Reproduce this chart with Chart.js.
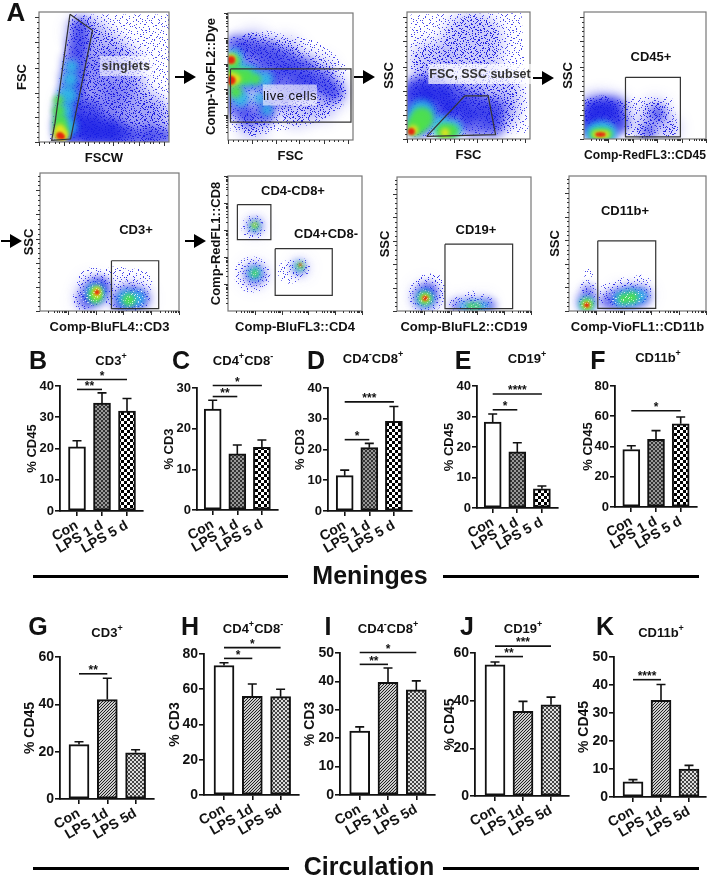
<!DOCTYPE html>
<html lang="en">
<head>
<meta charset="UTF-8">
<title>Flow cytometry gating and immune cell percentages</title>
<script src="https://cdn.jsdelivr.net/npm/chart.js"></script>
<style>
    html, body { margin: 0; padding: 0; background: #fff; }
    #page { position: relative; width: 709px; height: 877px; overflow: hidden;
            font-family: "Liberation Sans", Arial, sans-serif; font-weight: bold; color: #111; }
    canvas { position: absolute; }
    .txt { position: absolute; transform: translate(-50%, -50%); white-space: nowrap; z-index: 5; }
    .rule { position: absolute; background: #000; height: 3px; z-index: 5; }
    sup { font-size: 9px; line-height: 0; }
</style>
</head>
<body>
<div id="page"></div>
<script>
// ---- bar data: means and top of the error bar ----
const meningesCategories = ['Con', 'LPS 1 d', 'LPS 5 d'];
const circulationCategories = ['Con', 'LPS 1d', 'LPS 5d'];

const cd3MenMeans = [20.5, 34.5, 32];       const cd3MenTops = [22.5, 37.8, 36];
const cd4MenMeans = [24.8, 13.8, 15.4];     const cd4MenTops = [27, 16, 17.2];
const cd8MenMeans = [11.5, 20.6, 29.2];     const cd8MenTops = [13.3, 22, 34];
const cd19MenMeans = [28.2, 18.4, 6.3];     const cd19MenTops = [30.8, 21.4, 7.2];
const cd11MenMeans = [38, 44.8, 55];        const cd11MenTops = [40.5, 50.5, 59.5];

const cd3CirMeans = [23, 42, 19.5];         const cd3CirTops = [24.2, 51, 20.8];
const cd4CirMeans = [73.5, 56, 55.8];       const cd4CirTops = [75, 63, 60];
const cd8CirMeans = [22.5, 39.7, 37];       const cd8CirTops = [24, 44.7, 40.2];
const cd19CirMeans = [55, 35.5, 38.3];      const cd19CirTops = [56.2, 39.7, 41.5];
const cd11CirMeans = [5.4, 34.5, 10];       const cd11CirTops = [6.2, 40.2, 11.3];

// significance: [from category, to category, level in axis units, stars]
const cd3MenSig = [[0, 1, 38.9, '**'], [0, 2, 42.1, '*']];
const cd4MenSig = [[0, 1, 27.9, '**'], [0, 2, 30.6, '*']];
const cd8MenSig = [[0, 1, 23.2, '*'], [0, 2, 35.5, '***']];
const cd19MenSig = [[0, 1, 32.2, '*'], [0, 2, 37.4, '****']];
const cd11MenSig = [[0, 2, 63.6, '*']];
const cd3CirSig = [[0, 1, 52.9, '**']];
const cd4CirSig = [[0, 1, 77.5, '*'], [0, 2, 83.6, '*']];
const cd8CirSig = [[0, 1, 46, '**'], [0, 2, 50.2, '*']];
const cd19CirSig = [[0, 1, 58.5, '**'], [0, 2, 62.9, '***']];
const cd11CirSig = [[0, 1, 41.9, '****']];

// ---- flow plots: everything in percent of the plot, blobs are [x, y, radius] ----
const linearMajor = [0, 19, 38, 57, 77, 96];
const linearMinor = [4, 8, 12, 15, 23, 27, 31, 35, 42, 46, 50, 54, 61, 65, 69, 73, 81, 85, 88, 92];
const sideMajor = [0, 17.5, 35, 52.5, 70, 87.5];
const sideMinor = [3.5, 7, 10.5, 14, 21, 24.5, 28, 31.5, 38.5, 42, 45.5, 49, 56, 59.5, 63, 66.5, 73.5, 77, 80.5, 84, 91, 94.5, 98];
const logMajor = [20, 40, 60, 80, 100];
const logMinor = [6, 10, 12, 14, 16, 17, 18, 19, 26, 30, 32, 34, 36, 37, 38, 39, 46, 50, 52, 54, 56, 57, 58, 59, 66, 70, 72, 74, 76, 77, 78, 79, 86, 90, 92, 94, 96, 97, 98, 99];

const singletsSparse = [[8, 2], [23.8, 98], [100, 98], [100, 2]];
const singletsDense = [[50, 40, 30], [40, 25, 30], [70, 20, 30], [60, 55, 25], [45, 70, 22], [35, 85, 15], [85, 15, 22]];
const singletsBlue = [[31, 88, 8], [30, 75, 10], [28, 62, 11], [26, 50, 11], [25, 38, 11], [23, 26, 12], [22, 14, 13], [21, 6, 11], [30, 10, 12], [40, 10, 12], [50, 9, 12], [60, 8, 10], [40, 5, 10], [55, 5, 10], [70, 4, 9], [85, 4, 9], [97, 4, 7], [38, 22, 12]];
const singletsCyan = [[25, 58, 5], [24, 48, 6], [22, 36, 8], [20, 24, 7], [21, 12, 9]];
const singletsGreen = [[15, 32, 4], [15, 24, 5], [16, 16, 6], [17, 9, 7]];
const singletsYellow = [[16, 10, 4], [16, 6, 5], [18, 5, 5]];
const singletsRed = [[16, 5, 3], [18, 4, 2]];
const singletsGate = [[23.8, 98.2], [41.2, 86], [24.3, 2.3], [9.7, 1.3], [12.3, 14.5], [23.8, 98.2]];

const liveSparse = [[2, 81], [31, 86], [71, 78], [95, 60], [92, 26], [71, 13], [31, 5], [2, 7]];
const liveDense = [[20, 72, 16], [45, 65, 18], [70, 50, 18], [85, 38, 12], [55, 25, 16], [20, 12, 12], [75, 25, 10]];
const liveBlue = [[6, 74, 9], [18, 72, 10], [32, 68, 11], [46, 62, 11], [60, 55, 11], [74, 46, 10], [84, 38, 8], [10, 50, 16], [28, 50, 14], [44, 48, 12], [60, 42, 11], [8, 28, 12], [16, 18, 8], [30, 20, 8], [30, 30, 10], [45, 33, 7]];
const liveCyan = [[5, 65, 7], [8, 52, 11], [18, 50, 9], [30, 48, 6], [10, 33, 7], [31, 24, 4], [25, 33, 4]];
const liveGreen = [[4, 62, 6], [5, 50, 9], [14, 50, 7], [22, 48, 4], [6, 38, 5]];
const liveYellow = [[2.5, 64, 4], [2.5, 48, 6], [7, 48, 3]];
const liveRed = [[2.5, 63, 3.5], [2.5, 47, 4]];
const liveGate = [[2, 56], [98.4, 56], [98.4, 14], [2, 14], [2, 56]];

const scatterSparse = [[3, 98], [93, 99], [99, 5], [3, 2]];
const scatterDense = [[53, 75, 28], [20, 60, 18], [70, 35, 24], [75, 20, 16], [20, 35, 20], [45, 30, 20]];
const scatterBlue = [[8, 38, 12], [22, 40, 12], [38, 32, 14], [55, 26, 12], [70, 22, 10], [8, 30, 16], [25, 28, 16], [40, 18, 14], [55, 12, 12], [70, 10, 9], [10, 15, 16]];
const scatterCyan = [[12, 20, 12], [8, 12, 9], [28, 10, 9], [38, 8, 7]];
const scatterGreen = [[12, 16, 10], [7, 10, 8], [30, 6, 7], [36, 6, 6]];
const scatterYellow = [[5, 7, 4], [31, 5, 3.5]];
const scatterRed = [[3.5, 6, 3]];
const scatterGate = [[16, 2], [47, 34], [66, 34], [72, 3.4], [16, 2]];

const cd45Sparse = [[33, 33], [72, 33], [78, 6], [33, 2]];
const cd45Dense = [[15, 20, 18], [6, 22, 13], [26, 22, 12], [58, 20, 12], [50, 7, 9], [70, 8, 8]];
const cd45Blue = [[15, 13, 18], [6, 22, 9], [15, 24, 10], [25, 24, 9], [6, 10, 9], [30, 12, 7], [60, 20, 6], [53, 6, 5]];
const cd45Cyan = [[8, 5, 7], [14, 6, 9], [20, 5, 7]];
const cd45Green = [[9, 4, 4], [14, 4, 5], [19, 4, 4]];
const cd45Yellow = [[10, 3.5, 2.5], [14, 3.5, 3], [18, 3.5, 2.5]];
const cd45Red = [[11, 3.5, 1.5], [13.5, 3.5, 2], [16, 3.5, 1.5]];
const cd45Gate = [[34, 48.6], [79, 48.6], [79, 1.6], [34, 1.6], [34, 48.6]];

const cd3Sparse = [[38, 20, 16], [55, 18, 20], [70, 20, 15], [30, 8, 10]];
const cd3Dense = [[38, 14, 14], [64, 10, 16], [72, 9, 10], [32, 8, 9]];
const cd3Blue = [[40, 14, 11], [44, 18, 7], [34, 8, 7], [64, 9, 11], [72, 9, 7], [58, 6, 6]];
const cd3Cyan = [[40, 13, 8], [62, 9, 7], [70, 9, 6]];
const cd3Green = [[40, 13, 5], [40, 10, 5], [64, 8, 5]];
const cd3Yellow = [[41, 15, 3], [41, 12, 3]];
const cd3Red = [[41, 13.5, 2]];
const cd3Gate = [[51.4, 36.4], [85.4, 36.4], [85.4, 1.7], [51.4, 1.7], [51.4, 36.4]];

const cd4Sparse = [[18, 27, 18], [46, 29, 12], [19, 62, 12], [54, 32, 10]];
const cd4Dense = [[20, 27, 12], [54, 32, 7], [20, 63, 8]];
const cd4Blue = [[20, 27, 8], [20, 63, 5], [53, 32, 4.5]];
const cd4Cyan = [[20, 28, 5], [20, 63, 3], [53, 33, 3]];
const cd4Green = [[20, 28, 2.5], [20, 63, 2], [54, 33, 1.8]];
const cd4Yellow = [[20, 64, 1.2], [54, 34, 1]];
const cd4Red = [[54, 34, 0.8]];
const cd8Gate = [[7, 78.8], [32, 78.8], [32, 52.8], [7, 52.8], [7, 78.8]];
const cd4Gate = [[35.2, 46.2], [77.8, 46.2], [77.8, 11.6], [35.2, 11.6], [35.2, 46.2]];

const cd19Sparse = [[24, 16, 16], [22, 12, 18], [28, 22, 8], [45, 5, 8], [55, 6, 10], [65, 6, 9], [55, 10, 7]];
const cd19Dense = [[21, 11, 13], [45, 4, 6], [55, 5, 7], [65, 5, 7]];
const cd19Blue = [[21, 10, 10], [24, 15, 6], [45, 4, 4], [55, 4, 5], [65, 4, 5], [70, 4, 3]];
const cd19Cyan = [[21, 9.5, 7], [50, 3.5, 3], [58, 3.5, 3.5], [65, 3.5, 3]];
const cd19Green = [[21, 9.5, 5], [55, 3.5, 2.5], [60, 3.5, 2]];
const cd19Yellow = [[21, 9.5, 3]];
const cd19Red = [[21, 9.5, 2]];
const cd19Gate = [[35.8, 49.9], [86.3, 49.9], [86.3, 1.7], [35.8, 1.7], [35.8, 49.9]];

const cd11Sparse = [[14, 18, 8], [14, 28, 5], [14, 10, 8], [30, 12, 12], [40, 16, 12], [52, 18, 12], [40, 12, 14]];
const cd11Dense = [[13, 7, 8], [30, 8, 7], [38, 10, 10], [46, 11, 10], [54, 12, 8]];
const cd11Blue = [[13, 7, 7], [14, 15, 4], [28, 7, 5], [36, 9, 8], [45, 10, 9], [53, 11, 7]];
const cd11Cyan = [[13, 5, 6], [38, 9, 6], [45, 10, 7], [52, 11, 5]];
const cd11Green = [[13, 5, 5], [40, 9, 4], [46, 10, 4.5]];
const cd11Yellow = [[13, 4.5, 3]];
const cd11Red = [[13, 4.5, 2]];
const cd11Gate = [[21, 52], [63.3, 52], [63.3, 2], [21, 2], [21, 52]];

// hand placed speckle tile for the thin parts of the clouds
const speckleDots = [[1,3],[7,1],[14,2],[22,0],[29,4],[4,8],[11,7],[18,6],[25,9],[31,11],[2,14],[9,13],[16,12],[23,15],[28,17],[6,19],[13,18],[20,21],[26,23],[0,22],[8,25],[15,24],[3,28],[11,30],[19,27],[24,29],[30,26],[17,31],
    [5,5],[12,4],[20,3],[27,6],[2,10],[8,10],[15,9],[22,11],[29,13],[5,16],[12,15],[19,16],[25,18],[31,20],[3,20],[10,21],[17,22],[23,24],[29,24],[6,27],[13,27],[21,30],[27,31],[1,30],[9,29],[16,28],[31,1],[18,14],[24,5],[10,1]];

// ---- helpers ----
const page = document.getElementById('page');

function text(html, x, y, size, extra) {
    const d = document.createElement('div');
    d.className = 'txt';
    d.innerHTML = html;
    d.style.left = x + 'px';
    d.style.top = y + 'px';
    d.style.fontSize = size + 'px';
    if (extra) Object.assign(d.style, extra);
    page.appendChild(d);
}

function rule(x1, x2, y) {
    const d = document.createElement('div');
    d.className = 'rule';
    d.style.left = x1 + 'px';
    d.style.width = (x2 - x1) + 'px';
    d.style.top = (y - 1.5) + 'px';
    page.appendChild(d);
}

function arrow(x, y) {
    const s = document.createElementNS('http://www.w3.org/2000/svg', 'svg');
    s.setAttribute('width', 21);
    s.setAttribute('height', 14);
    s.style.cssText = 'position:absolute;z-index:5;left:' + x + 'px;top:' + (y - 7) + 'px';
    s.innerHTML = '<path d="M0 6h9V0l12 7-12 7V8H0z" fill="#000"/>';
    page.appendChild(s);
}

function addCanvas(left, top, w, h) {
    const c = document.createElement('canvas');
    c.width = w;
    c.height = h;
    c.style.left = left + 'px';
    c.style.top = top + 'px';
    page.appendChild(c);
    return c.getContext('2d');
}

function tile(size, draw) {
    const c = document.createElement('canvas');
    c.width = size;
    c.height = size;
    const g = c.getContext('2d');
    draw(g);
    return g.createPattern(c, 'repeat');
}

function checker(cell, dark, light) {
    return tile(cell * 2, g => {
        g.fillStyle = light;
        g.fillRect(0, 0, cell * 2, cell * 2);
        g.fillStyle = dark;
        g.fillRect(0, 0, cell, cell);
        g.fillRect(cell, cell, cell, cell);
    });
}

const whiteFill = '#fff';
const menFine = checker(2, '#333', '#999');
const menCoarse = checker(3, '#000', '#fff');
const cirFine = tile(3, g => {
    g.fillStyle = '#ccc';
    g.fillRect(0, 0, 3, 3);
    g.strokeStyle = '#222';
    g.lineWidth = 1;
    g.beginPath();
    g.moveTo(-1, 4); g.lineTo(4, -1);
    g.moveTo(-1, 1); g.lineTo(1, -1);
    g.moveTo(2, 4); g.lineTo(4, 2);
    g.stroke();
});
const cirCoarse = checker(2, '#444', '#ddd');

// the dot list is reused mirrored and shifted so the tile gets dense enough
function dots(g, copies) {
    speckleDots.forEach(p => {
        g.fillRect(p[0], p[1], 1, 1);
        if (copies > 1) g.fillRect((p[1] + 5) % 32, (p[0] + 11) % 32, 1, 1);
        if (copies > 2) g.fillRect((31 - p[0]) % 32, (p[1] + 9) % 32, 1, 1);
        if (copies > 3) g.fillRect((p[1] + 19) % 32, (31 - p[0]) % 32, 1, 1);
    });
}
const speckleThin = tile(32, g => { g.fillStyle = 'rgba(42,42,230,0.85)'; dots(g, 2); });
const speckleThick = tile(32, g => { g.fillStyle = 'rgba(30,30,224,0.9)'; dots(g, 4); });
const grain = tile(32, g => { g.fillStyle = 'rgba(255,255,255,0.5)'; dots(g, 2); });

// error bars and significance lines, all through the chart's scales
const barMarks = {
    id: 'barMarks',
    afterDatasetsDraw(chart, args, opts) {
        const c = chart.ctx, sx = chart.scales.x, sy = chart.scales.y;
        c.save();
        c.strokeStyle = '#111';
        c.lineWidth = 1.6;
        opts.tops.forEach((top, i) => {
            const x = sx.getPixelForValue(i);
            c.beginPath();
            c.moveTo(x, sy.getPixelForValue(opts.means[i]));
            c.lineTo(x, sy.getPixelForValue(top));
            c.moveTo(x - 4.5, sy.getPixelForValue(top));
            c.lineTo(x + 4.5, sy.getPixelForValue(top));
            c.stroke();
        });
        c.fillStyle = '#111';
        c.font = 'bold 12px "Liberation Sans", Arial';
        c.textAlign = 'center';
        c.textBaseline = 'middle';
        opts.sig.forEach(s => {
            const a = sx.getPixelForValue(s[0]), b = sx.getPixelForValue(s[1]), y = sy.getPixelForValue(s[2]);
            c.beginPath();
            c.moveTo(a, y);
            c.lineTo(b, y);
            c.stroke();
            c.fillText(s[3], (a + b) / 2, y - 3);
        });
        c.restore();
    }
};

// frame and tick marks of a flow plot, and per layer blur
const flowMarks = {
    id: 'flowMarks',
    beforeDatasetDraw(chart, args) {
        const b = chart.data.datasets[args.index].blur;
        if (b) chart.ctx.filter = 'blur(' + b + 'px)';
    },
    afterDatasetDraw(chart) {
        chart.ctx.filter = 'none';
    },
    afterDraw(chart, args, opts) {
        const c = chart.ctx, a = chart.chartArea, sx = chart.scales.x, sy = chart.scales.y;
        c.save();
        c.strokeStyle = '#777';
        c.lineWidth = 1.2;
        c.strokeRect(a.left, a.top, a.right - a.left, a.bottom - a.top);
        c.strokeStyle = '#333';
        c.lineWidth = 1;
        const tx = (list, len) => list.forEach(v => {
            const x = Math.round(sx.getPixelForValue(v)) + 0.5;
            c.beginPath(); c.moveTo(x, a.bottom); c.lineTo(x, a.bottom + len); c.stroke();
        });
        const ty = (list, len) => list.forEach(v => {
            const y = Math.round(sy.getPixelForValue(v)) + 0.5;
            c.beginPath(); c.moveTo(a.left, y); c.lineTo(a.left - len, y); c.stroke();
        });
        tx(opts.xMajor, 4); tx(opts.xMinor, 2);
        ty(opts.yMajor, 4); ty(opts.yMinor, 2);
        c.restore();
    }
};

function barPanel(p) {
    const pad = 34, below = 62, yWidth = p.off + 6;
    const left = p.axis - yWidth, top = p.top - pad;
    const w = p.end - left + 2, h = p.zero - p.top + pad + below;
    const ctx = addCanvas(left, top, w, h);
    const spacing = p.ticks[1] - p.ticks[0];
    new Chart(ctx, {
        type: 'bar',
        data: {
            datasets: [{
                data: p.means.map((v, i) => ({ x: i, y: v })),
                backgroundColor: p.fills,
                borderColor: '#111',
                borderWidth: 2,
                borderSkipped: false,
                barThickness: p.barW
            }]
        },
        options: {
            responsive: false,
            animation: false,
            layout: { autoPadding: false, padding: { top: pad, right: 2, left: 0, bottom: 0 } },
            plugins: {
                legend: { display: false },
                tooltip: { enabled: false },
                barMarks: { means: p.means, tops: p.tops, sig: p.sig }
            },
            scales: {
                x: {
                    type: 'linear',
                    offset: false,
                    min: (p.axis - p.ticks[0]) / spacing,
                    max: (p.end - p.ticks[0]) / spacing,
                    afterBuildTicks: s => { s.ticks = p.cats.map((c, i) => ({ value: i })); },
                    afterFit: s => { s.height = below; s.paddingLeft = 0; s.paddingRight = 0; },
                    grid: { offset: false, drawOnChartArea: false, color: '#111', lineWidth: 1.6, tickLength: 5 },
                    border: { color: '#111', width: 1.8 },
                    ticks: {
                        autoSkip: false, minRotation: 30, maxRotation: 30, padding: 1,
                        color: '#111', font: { family: '"Liberation Sans", Arial', weight: 'bold', size: p.xFont },
                        callback: v => p.cats[v]
                    }
                },
                y: {
                    min: 0,
                    max: p.max,
                    afterFit: s => { s.width = yWidth; s.paddingTop = 0; s.paddingBottom = 0; },
                    grid: { drawOnChartArea: false, color: '#111', lineWidth: 1.6, tickLength: 5 },
                    border: { color: '#111', width: 1.8 },
                    ticks: {
                        stepSize: p.step, padding: 1, color: '#111',
                        font: { family: '"Liberation Sans", Arial', weight: 'bold', size: p.yFont }
                    },
                    title: {
                        display: true, text: p.yLabel, color: '#111', padding: 0,
                        font: { family: '"Liberation Sans", Arial', weight: 'bold', size: p.yFont, lineHeight: 1.2 }
                    }
                }
            }
        },
        plugins: [barMarks]
    });
}

const colHaze = 'rgba(50,50,235,0.26)', colHazeLight = 'rgba(50,50,235,0.12)', colBlue = 'rgba(28,34,230,0.6)',
      colCyan = 'rgba(47,195,232,0.85)', colGreen = 'rgba(79,224,74,0.95)',
      colYellow = 'rgba(230,227,30,0.95)', colRed = 'rgba(229,32,15,0.95)';

function xy(list) { return list.map(p => ({ x: p[0], y: p[1] })); }
function blobs(list, grow) { return list.map(p => ({ x: p[0], y: p[1], r: p[2] + grow })); }

function flowPanel(p) {
    const yWidth = p.yOff + 6, xHeight = 24;
    const left = p.l - yWidth, top = p.t - 2;
    const ctx = addCanvas(left, top, p.r - p.l + yWidth + 3, p.b - p.t + xHeight + 2);
    // blurred layers lose some visible size, so they get a little of it back
    const layer = (list, color, blur) => ({ type: 'bubble', data: blobs(list, blur ? blur * 0.5 : 0), backgroundColor: color, borderWidth: 0, blur: blur, clip: 0 });
    const sets = [];
    if (p.sparsePoly) {
        sets.push({ type: 'line', data: xy(p.sparsePoly), borderWidth: 0, pointRadius: 0, fill: 'shape', backgroundColor: speckleThin, tension: 0, clip: 0 });
    }
    if (p.sparse) sets.push(layer(p.sparse, speckleThin));
    sets.push(layer(p.dense, p.sparse ? colHazeLight : colHaze, 7));
    sets.push(layer(p.dense, speckleThick));
    sets.push(layer(p.blue, colBlue, 4));
    sets.push(layer(p.cyan, colCyan, 3));
    sets.push(layer(p.green, colGreen, 2.5));
    sets.push(layer(p.yellow, colYellow, 2));
    sets.push(layer(p.red, colRed, 1));
    if (p.sparse) sets.push(layer(p.dense, grain));
    p.gates.forEach(g => sets.push({ type: 'line', data: xy(g), borderColor: '#333', borderWidth: 1.2, pointRadius: 0, fill: false, tension: 0, clip: 0 }));
    new Chart(ctx, {
        type: 'bubble',
        data: { datasets: sets.reverse() },
        options: {
            responsive: false,
            animation: false,
            layout: { autoPadding: false, padding: { top: 2, right: 3, left: 0, bottom: 0 } },
            plugins: {
                legend: { display: false },
                tooltip: { enabled: false },
                flowMarks: { xMajor: p.xMajor, xMinor: p.xMinor, yMajor: p.yMajor, yMinor: p.yMinor }
            },
            scales: {
                x: {
                    type: 'linear', min: 0, max: 100,
                    afterFit: s => { s.height = xHeight; },
                    grid: { display: false }, border: { display: false },
                    ticks: { display: false },
                    title: { display: true, text: p.xLabel, color: '#111', padding: 0,
                        font: { family: '"Liberation Sans", Arial', weight: 'bold', size: 13, lineHeight: 1.2 } }
                },
                y: {
                    type: 'linear', min: 0, max: 100,
                    afterFit: s => { s.width = yWidth; },
                    grid: { display: false }, border: { display: false },
                    ticks: { display: false },
                    title: { display: true, text: p.yLabel, color: '#111', padding: 0,
                        font: { family: '"Liberation Sans", Arial', weight: 'bold', size: 13, lineHeight: 1.2 } }
                }
            }
        },
        plugins: [flowMarks]
    });
}

// ---- flow panels, row one and two ----
flowPanel({ l: 39, r: 169, t: 12, b: 142, yOff: 18, xLabel: 'FSCW', yLabel: 'FSC', sparsePoly: singletsSparse, dense: singletsDense, blue: singletsBlue, cyan: singletsCyan, green: singletsGreen, yellow: singletsYellow, red: singletsRed, gates: [singletsGate], xMajor: linearMajor, xMinor: linearMinor, yMajor: linearMajor, yMinor: linearMinor });
flowPanel({ l: 228, r: 353, t: 13, b: 140, yOff: 18, xLabel: 'FSC', yLabel: 'Comp-VioFL2::Dye', sparsePoly: liveSparse, dense: liveDense, blue: liveBlue, cyan: liveCyan, green: liveGreen, yellow: liveYellow, red: liveRed, gates: [liveGate], xMajor: linearMajor, xMinor: linearMinor, yMajor: logMajor, yMinor: logMinor });
flowPanel({ l: 407, r: 530, t: 12, b: 139, yOff: 19, xLabel: 'FSC', yLabel: 'SSC', sparsePoly: scatterSparse, dense: scatterDense, blue: scatterBlue, cyan: scatterCyan, green: scatterGreen, yellow: scatterYellow, red: scatterRed, gates: [scatterGate], xMajor: linearMajor, xMinor: linearMinor, yMajor: linearMajor, yMinor: linearMinor });
flowPanel({ l: 584, r: 706, t: 12, b: 139, yOff: 17, xLabel: 'Comp-RedFL3::CD45', yLabel: 'SSC', sparsePoly: cd45Sparse, dense: cd45Dense, blue: cd45Blue, cyan: cd45Cyan, green: cd45Green, yellow: cd45Yellow, red: cd45Red, gates: [cd45Gate], xMajor: logMajor, xMinor: logMinor, yMajor: linearMajor, yMinor: linearMinor });
flowPanel({ l: 40, r: 179, t: 173, b: 311, yOff: 12, xLabel: 'Comp-BluFL4::CD3', yLabel: 'SSC', sparse: cd3Sparse, dense: cd3Dense, blue: cd3Blue, cyan: cd3Cyan, green: cd3Green, yellow: cd3Yellow, red: cd3Red, gates: [cd3Gate], xMajor: logMajor, xMinor: logMinor, yMajor: sideMajor, yMinor: sideMinor });
flowPanel({ l: 228, r: 362, t: 176, b: 311, yOff: 13, xLabel: 'Comp-BluFL3::CD4', yLabel: 'Comp-RedFL1::CD8', sparse: cd4Sparse, dense: cd4Dense, blue: cd4Blue, cyan: cd4Cyan, green: cd4Green, yellow: cd4Yellow, red: cd4Red, gates: [cd8Gate, cd4Gate], xMajor: logMajor, xMinor: logMinor, yMajor: logMajor, yMinor: logMinor });
flowPanel({ l: 397, r: 531, t: 177, b: 311, yOff: 13, xLabel: 'Comp-BluFL2::CD19', yLabel: 'SSC', sparse: cd19Sparse, dense: cd19Dense, blue: cd19Blue, cyan: cd19Cyan, green: cd19Green, yellow: cd19Yellow, red: cd19Red, gates: [cd19Gate], xMajor: logMajor, xMinor: logMinor, yMajor: sideMajor, yMinor: sideMinor });
flowPanel({ l: 569, r: 706, t: 176, b: 311, yOff: 15, xLabel: 'Comp-VioFL1::CD11b', yLabel: 'SSC', sparse: cd11Sparse, dense: cd11Dense, blue: cd11Blue, cyan: cd11Cyan, green: cd11Green, yellow: cd11Yellow, red: cd11Red, gates: [cd11Gate], xMajor: logMajor, xMinor: logMinor, yMajor: sideMajor, yMinor: sideMinor });

// ---- bar panels ----
const menFills = [whiteFill, menFine, menCoarse];
const cirFills = [whiteFill, cirFine, cirCoarse];
const men = { cats: meningesCategories, fills: menFills, barW: 17, xFont: 14, yFont: 13 };
const cir = { cats: circulationCategories, fills: cirFills, barW: 20, xFont: 14, yFont: 14 };

barPanel({ ...men, axis: 60, end: 143, top: 386, zero: 511, ticks: [77, 102, 127], max: 40, step: 10, off: 29, yLabel: '% CD45', means: cd3MenMeans, tops: cd3MenTops, sig: cd3MenSig });
barPanel({ ...men, axis: 197, end: 278, top: 388, zero: 510, ticks: [212.7, 237.3, 261.7], max: 30, step: 10, off: 29, yLabel: '% CD3', means: cd4MenMeans, tops: cd4MenTops, sig: cd4MenSig });
barPanel({ ...men, axis: 328, end: 412, top: 388, zero: 511, ticks: [344.7, 369.3, 394], max: 40, step: 10, off: 29, yLabel: '% CD3', means: cd8MenMeans, tops: cd8MenTops, sig: cd8MenSig });
barPanel({ ...men, axis: 477, end: 558, top: 386, zero: 508, ticks: [492.7, 517.3, 541.7], max: 40, step: 10, off: 29, yLabel: '% CD45', means: cd19MenMeans, tops: cd19MenTops, sig: cd19MenSig });
barPanel({ ...men, axis: 615, end: 697, top: 386, zero: 507, ticks: [631.3, 656, 680], max: 80, step: 20, off: 28, yLabel: '% CD45', means: cd11MenMeans, tops: cd11MenTops, sig: cd11MenSig });

barPanel({ ...cir, axis: 60, end: 154, top: 657, zero: 799, ticks: [79, 107.3, 135.7], max: 60, step: 20, off: 32, yLabel: '% CD45', means: cd3CirMeans, tops: cd3CirTops, sig: cd3CirSig });
barPanel({ ...cir, axis: 204, end: 299, top: 654, zero: 795, ticks: [224, 252.3, 280.7], max: 80, step: 20, off: 31, yLabel: '% CD3', means: cd4CirMeans, tops: cd4CirTops, sig: cd4CirSig });
barPanel({ ...cir, axis: 340, end: 435, top: 653, zero: 795, ticks: [359.7, 388, 416.3], max: 50, step: 10, off: 32, yLabel: '% CD3', means: cd8CirMeans, tops: cd8CirTops, sig: cd8CirSig });
barPanel({ ...cir, axis: 475, end: 569, top: 653, zero: 796, ticks: [495, 523, 551], max: 60, step: 20, off: 27, yLabel: '% CD45', means: cd19CirMeans, tops: cd19CirTops, sig: cd19CirSig });
barPanel({ ...cir, axis: 614, end: 706, top: 657, zero: 797, ticks: [633, 661, 689], max: 50, step: 10, off: 32, yLabel: '% CD45', means: cd11CirMeans, tops: cd11CirTops, sig: cd11CirSig });

// ---- texts, arrows and rules ----
text('A', 16, 12, 26);
[['B', 38, 360], ['C', 181, 360], ['D', 316, 360], ['E', 463, 360], ['F', 598, 360],
 ['G', 38, 626], ['H', 190, 626], ['I', 328, 626], ['J', 467, 626], ['K', 605, 626]].forEach(l => text(l[0], l[1], l[2], 25));

text('CD3<sup>+</sup>', 111, 360, 13);
text('CD4<sup>+</sup>CD8<sup>-</sup>', 243, 360, 13);
text('CD4<sup>-</sup>CD8<sup>+</sup>', 373, 358, 13);
text('CD19<sup>+</sup>', 527, 358, 13);
text('CD11b<sup>+</sup>', 658, 357, 13);
text('CD3<sup>+</sup>', 107, 632, 13);
text('CD4<sup>+</sup>CD8<sup>-</sup>', 253, 628, 13);
text('CD4<sup>-</sup>CD8<sup>+</sup>', 388, 628, 13);
text('CD19<sup>+</sup>', 523, 628, 13);
text('CD11b<sup>+</sup>', 661, 632, 13);

text('singlets', 126, 66, 12, { background: 'rgba(255,255,255,0.6)', padding: '3px 2px', letterSpacing: '0.4px', color: '#333' });
text('live cells', 290, 95, 13, { background: 'rgba(255,255,255,0.6)', padding: '3px 0', fontWeight: 'normal', letterSpacing: '0.5px' });
text('FSC, SSC subset', 480, 74, 12.5, { background: 'rgba(255,255,255,0.7)', padding: '3px 1px', color: '#333' });
text('CD45+', 651, 56, 13);
text('CD3+', 136, 229, 13);
text('CD4-CD8+', 293, 190, 13);
text('CD4+CD8-', 326, 233, 13);
text('CD19+', 476, 229, 13);
text('CD11b+', 625, 210, 13);

arrow(175, 77); arrow(354, 77); arrow(533, 78); arrow(1, 241); arrow(185, 241);

text('Meninges', 370, 575, 25);
rule(33, 288, 576);
rule(443, 699, 576);
text('Circulation', 369, 866, 25);
rule(33, 289, 868);
rule(443, 699, 868);
</script>
</body>
</html>
